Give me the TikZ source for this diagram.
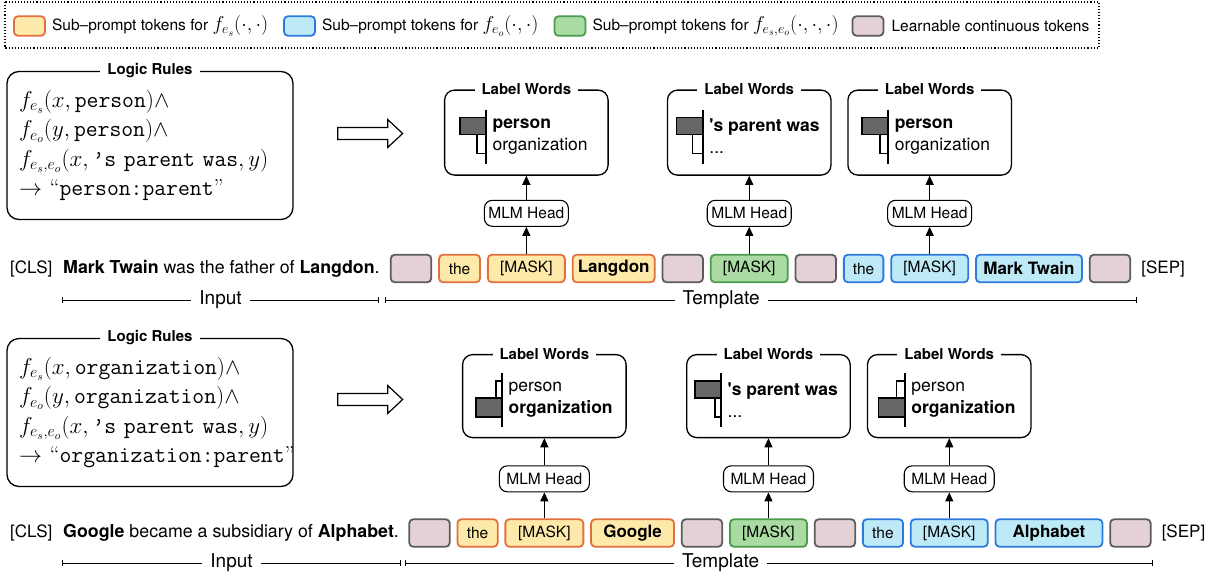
\documentclass[tikz,border=0pt]{standalone}
\usepackage{fix-cm}
\usepackage{fontspec}
\setsansfont{TeX Gyre Heros}
\renewcommand{\familydefault}{\sfdefault}
\usepackage{tikz}
\usetikzlibrary {
  positioning,
  arrows.meta,
}
\definecolor{subD}{HTML}{E2703F}
\definecolor{subL}{HTML}{FDEAAA}
\definecolor{objD}{HTML}{2E79DC}
\definecolor{objL}{HTML}{BEEAF8}
\definecolor{relD}{HTML}{4B9A4E}
\definecolor{relL}{HTML}{A9DBA2}
\definecolor{softD}{HTML}{5C5C5C}
\definecolor{softL}{HTML}{E4D1D5}
\definecolor{barD}{HTML}{666666}
\tikzset{
  tok/.style 2 args = {
    rectangle,
    rounded corners = 4pt,
    draw = #1,
    fill = #2,
    line width = 1.8pt,
    minimum height = 27.5pt,
    inner sep = 0pt,
    font = \fontsize{15.5}{18}\selectfont
  },
  subtok/.style = {tok = {subD}{subL}, minimum width = #1},
  objtok/.style = {tok = {objD}{objL}, minimum width = #1},
  reltok/.style = {tok = {relD}{relL}, minimum width = #1},
  softtok/.style = {tok = {softD}{softL}, minimum width = 40.5pt},
  entity/.style = {font = \bfseries\fontsize{17}{20}\selectfont},
  swatch/.style 2 args = {
    rectangle,
    rounded corners = 4pt,
    draw = #1,
    fill = #2,
    line width = 1.8pt,
    minimum width = 31pt,
    minimum height = 19.5pt
  },
  keytext/.style = {
    inner sep = 0pt,
    font = \fontsize{15.5}{18}\selectfont
  },
  keyframe/.style = {
    dotted,
    line width = 1.1pt
  },
  special/.style = {
    anchor = west,
    inner sep = 0pt,
    font = \fontsize{17}{20}\selectfont
  },
  sent/.style = {
    anchor = west,
    inner sep = 0pt,
    font = \fontsize{17.8}{20}\selectfont
  }
}
\tikzset{
  rulebox/.style = {
    rectangle,
    rounded corners = 12pt,
    draw,
    line width = 1.3pt,
    align = left,
    text width = 262pt,
    inner xsep = 12pt,
    minimum height = 148pt,
    font = \rmfamily\fontsize{23}{29.5}\selectfont
  },
  boxtitle/.style = {
    fill = white,
    inner xsep = 7pt,
    inner ysep = 1pt,
    font = \bfseries\fontsize{15}{18}\selectfont
  },
  wordbox/.style = {
    rectangle,
    rounded corners = 10pt,
    draw,
    line width = 1.3pt,
    minimum width = 163.5pt,
    minimum height = #1
  },
  wordtext/.style = {
    align = left,
    inner sep = 0pt,
    font = \fontsize{17.5}{22}\selectfont
  },
  mlm/.style = {
    rectangle,
    rounded corners = 8pt,
    draw,
    line width = 1.1pt,
    minimum width = #1,
    minimum height = 26pt,
    inner sep = 0pt,
    font = \fontsize{15.5}{18}\selectfont
  },
  feed/.style = {
    -{Triangle[length = 9pt, width = 8pt]},
    line width = 1.1pt
  },
  spanline/.style = {
    {Bar[width = 6pt]}-{Bar[width = 6pt]},
    line width = .9pt
  },
  spantext/.style = {
    fill = white,
    inner xsep = 8pt,
    inner ysep = 0pt,
    font = \fontsize{19}{22}\selectfont
  },
  barhi/.style = {draw, line width = 1.4pt, fill = barD},
  barlo/.style = {draw, line width = 1.4pt, fill = white}
}
\newcommand{\histo}[5]{
  \draw[#2] ([yshift = 2pt]#1) rectangle ([xshift = -#3, yshift = 19pt]#1);
  \draw[#4] ([yshift = 2pt]#1) rectangle ([xshift = -#5, yshift = -17pt]#1);
  \draw[line width = 1.6pt] ([yshift = 27pt]#1) -- ([yshift = -27pt]#1);
}
\newcommand{\hollow}[1]{
  \draw[line width = 1.2pt] ([yshift = 6pt]#1) -- ++(50pt, 0pt) -- ++(0pt, 8pt)
    -- ++(15pt, -14pt) -- ++(-15pt, -14pt) -- ++(0pt, 8pt) -- ++(-50pt, 0pt) -- cycle;
}
\newcommand{\keymath}[1]{{\fontsize{20}{20}\selectfont$#1$}}

\begin{document}
\begin{tikzpicture}[x = 1pt, y = -1pt]
  \useasboundingbox (0, 0) rectangle (1217, 579);

  % Legend.
  \draw[keyframe] (5, 2) rectangle (1099, 48);
  \node[swatch = {subD}{subL}] (Ks) at (29.5, 26) {};
  \node[keytext] (Kst) [right = 6pt of Ks] {Sub--prompt tokens for \keymath{f_{e_s}(\cdot,\cdot)}};
  \node[swatch = {objD}{objL}] (Ko) at (299.5, 26) {};
  \node[keytext] (Kot) [right = 6pt of Ko] {Sub--prompt tokens for \keymath{f_{e_o}(\cdot,\cdot)}};
  \node[swatch = {relD}{relL}] (Kr) at (570, 26) {};
  \node[keytext] (Krt) [right = 6pt of Kr] {Sub--prompt tokens for \keymath{f_{e_s,e_o}(\cdot,\cdot,\cdot)}};
  \node[swatch = {softD}{softL}] (Kl) at (868, 26) {};
  \node[keytext] (Klt) [right = 7pt of Kl] {Learnable continuous tokens};

  % First example.
  \node[rulebox] (LRa) at (150, 145.5) {
    $f_{e_s}(x,\texttt{person})\wedge$\\
    $f_{e_o}(y,\texttt{person})\wedge$\\
    $f_{e_s,e_o}(x,\texttt{\textquoteright s parent was},y)$\\
    $\rightarrow$~``\texttt{person:parent}''
  };
  \node[boxtitle] (LRat) at (LRa.north) {Logic Rules};
  \coordinate (Ga) at ([xshift = 44pt, yshift = 12pt]LRa.east);
  \hollow{Ga}

  \node[special] (Ca) at (10, 268.5) {[CLS]};
  \node[sent] (Sa) at (63, 268.5) {\textbf{Mark Twain} was the father of \textbf{Langdon}.};
  \node[softtok] (ta1) at (411, 268.5) {};
  \node[subtok = 41pt] (ta2) [right = 6pt of ta1] {the};
  \node[subtok = 77pt] (ta3) [right = 6pt of ta2] {[MASK]};
  \node[subtok = 82pt, entity] (ta4) [right = 6pt of ta3] {Langdon};
  \node[softtok] (ta5) [right = 6pt of ta4] {};
  \node[reltok = 77pt] (ta6) [right = 6pt of ta5] {[MASK]};
  \node[softtok] (ta7) [right = 6pt of ta6] {};
  \node[objtok = 39.5pt] (ta8) [right = 6pt of ta7] {the};
  \node[objtok = 77pt] (ta9) [right = 6pt of ta8] {[MASK]};
  \node[objtok = 106pt, entity] (ta10) [right = 6pt of ta9] {Mark Twain};
  \node[softtok] (ta11) [right = 6pt of ta10] {};
  \node[special] (Ea) [right = 10pt of ta11] {[SEP]};

  \node[mlm = 84pt] (Ha1) [above = 27pt of ta3] {MLM Head};
  \node[mlm = 84pt] (Ha2) [above = 27pt of ta6] {MLM Head};
  \node[mlm = 84pt] (Ha3) [above = 27pt of ta9] {MLM Head};
  \node[wordbox = 85pt] (La1) [above = 24pt of Ha1] {};
  \node[wordbox = 85pt] (La2) [above = 24pt of Ha2] {};
  \node[wordbox = 85pt] (La3) [above = 24pt of Ha3] {};
  \node[boxtitle] (La1t) at (La1.north) {Label Words};
  \node[boxtitle] (La2t) at (La2.north) {Label Words};
  \node[boxtitle] (La3t) at (La3.north) {Label Words};

  \coordinate (Aa1) at ([xshift = -40.5pt, yshift = -4pt]La1.center);
  \histo{Aa1}{barhi}{26pt}{barlo}{9pt}
  \node[wordtext] (Wa1) [right = 6.5pt of Aa1] {\textbf{person}\\organization};
  \coordinate (Aa2) at ([xshift = -46.5pt, yshift = -4pt]La2.center);
  \histo{Aa2}{barhi}{26pt}{barlo}{10pt}
  \node[wordtext] (Wa2) [right = 6.5pt of Aa2] {\textbf{\textquotesingle s parent was}\\...};
  \coordinate (Aa3) at ([xshift = -41.5pt, yshift = -4pt]La3.center);
  \histo{Aa3}{barhi}{26pt}{barlo}{8pt}
  \node[wordtext] (Wa3) [right = 6.5pt of Aa3] {\textbf{person}\\organization};

  \draw[feed] (ta3) -- (Ha1);
  \draw[feed] (Ha1) -- (La1);
  \draw[feed] (ta6) -- (Ha2);
  \draw[feed] (Ha2) -- (La2);
  \draw[feed] (ta9) -- (Ha3);
  \draw[feed] (Ha3) -- (La3);

  \draw[spanline] (62, 300) -- (379, 300) node[spantext, pos = .5] (Ia) {Input};
  \draw[spanline] (385, 300) -- (1137, 300) node[spantext, pos = .447] (Ta) {Template};

  % Second example.
  \node[rulebox] (LRb) at (150, 412.5) {
    $f_{e_s}(x,\texttt{organization})\wedge$\\
    $f_{e_o}(y,\texttt{organization})\wedge$\\
    $f_{e_s,e_o}(x,\texttt{\textquoteright s parent was},y)$\\
    $\rightarrow$~``\texttt{organization:parent}''
  };
  \node[boxtitle] (LRbt) at (LRb.north) {Logic Rules};
  \coordinate (Gb) at ([xshift = 44pt, yshift = 13pt]LRb.east);
  \hollow{Gb}

  \node[special] (Cb) at (10, 533) {[CLS]};
  \node[sent] (Sb) at (63, 533) {\textbf{Google} became a subsidiary of \textbf{Alphabet}.};
  \node[softtok] (tb1) at (429.5, 533) {};
  \node[subtok = 40.2pt] (tb2) [right = 5.9pt of tb1] {the};
  \node[subtok = 78pt] (tb3) [right = 5.9pt of tb2] {[MASK]};
  \node[subtok = 83pt, entity] (tb4) [right = 5.9pt of tb3] {Google};
  \node[softtok] (tb5) [right = 5.9pt of tb4] {};
  \node[reltok = 77pt] (tb6) [right = 5.9pt of tb5] {[MASK]};
  \node[softtok] (tb7) [right = 5.9pt of tb6] {};
  \node[objtok = 40.2pt] (tb8) [right = 5.9pt of tb7] {the};
  \node[objtok = 77pt] (tb9) [right = 5.9pt of tb8] {[MASK]};
  \node[objtok = 107pt, entity] (tb10) [right = 5.9pt of tb9] {Alphabet};
  \node[softtok] (tb11) [right = 5.9pt of tb10] {};
  \node[special] (Eb) [right = 10pt of tb11] {[SEP]};

  \node[mlm = 90pt] (Hb1) [above = 26pt of tb3] {MLM Head};
  \node[mlm = 90pt] (Hb2) [above = 26pt of tb6] {MLM Head};
  \node[mlm = 90pt] (Hb3) [above = 26pt of tb9] {MLM Head};
  \node[wordbox = 83pt] (Lb1) [above = 27pt of Hb1] {};
  \node[wordbox = 83pt] (Lb2) [above = 27pt of Hb2] {};
  \node[wordbox = 83pt] (Lb3) [above = 27pt of Hb3] {};
  \node[boxtitle] (Lb1t) at (Lb1.north) {Label Words};
  \node[boxtitle] (Lb2t) at (Lb2.north) {Label Words};
  \node[boxtitle] (Lb3t) at (Lb3.north) {Label Words};

  \coordinate (Ab1) at ([xshift = -42.5pt, yshift = -4pt]Lb1.center);
  \histo{Ab1}{barlo}{6pt}{barhi}{26pt}
  \node[wordtext] (Wb1) [right = 6.5pt of Ab1] {person\\\textbf{organization}};
  \coordinate (Ab2) at ([xshift = -47.5pt, yshift = -4pt]Lb2.center);
  \histo{Ab2}{barhi}{26pt}{barlo}{6pt}
  \node[wordtext] (Wb2) [right = 6.5pt of Ab2] {\textbf{\textquotesingle s parent was}\\...};
  \coordinate (Ab3) at ([xshift = -44.5pt, yshift = -4pt]Lb3.center);
  \histo{Ab3}{barlo}{8pt}{barhi}{26pt}
  \node[wordtext] (Wb3) [right = 6.5pt of Ab3] {person\\\textbf{organization}};

  \draw[feed] (tb3) -- (Hb1);
  \draw[feed] (Hb1) -- (Lb1);
  \draw[feed] (tb6) -- (Hb2);
  \draw[feed] (Hb2) -- (Lb2);
  \draw[feed] (tb9) -- (Hb3);
  \draw[feed] (Hb3) -- (Lb3);

  \draw[spanline] (62, 563) -- (401, 563) node[spantext, pos = .5] (Ib) {Input};
  \draw[spanline] (405, 563) -- (1153, 563) node[spantext, pos = .422] (Tb) {Template};
\end{tikzpicture}
\end{document}
